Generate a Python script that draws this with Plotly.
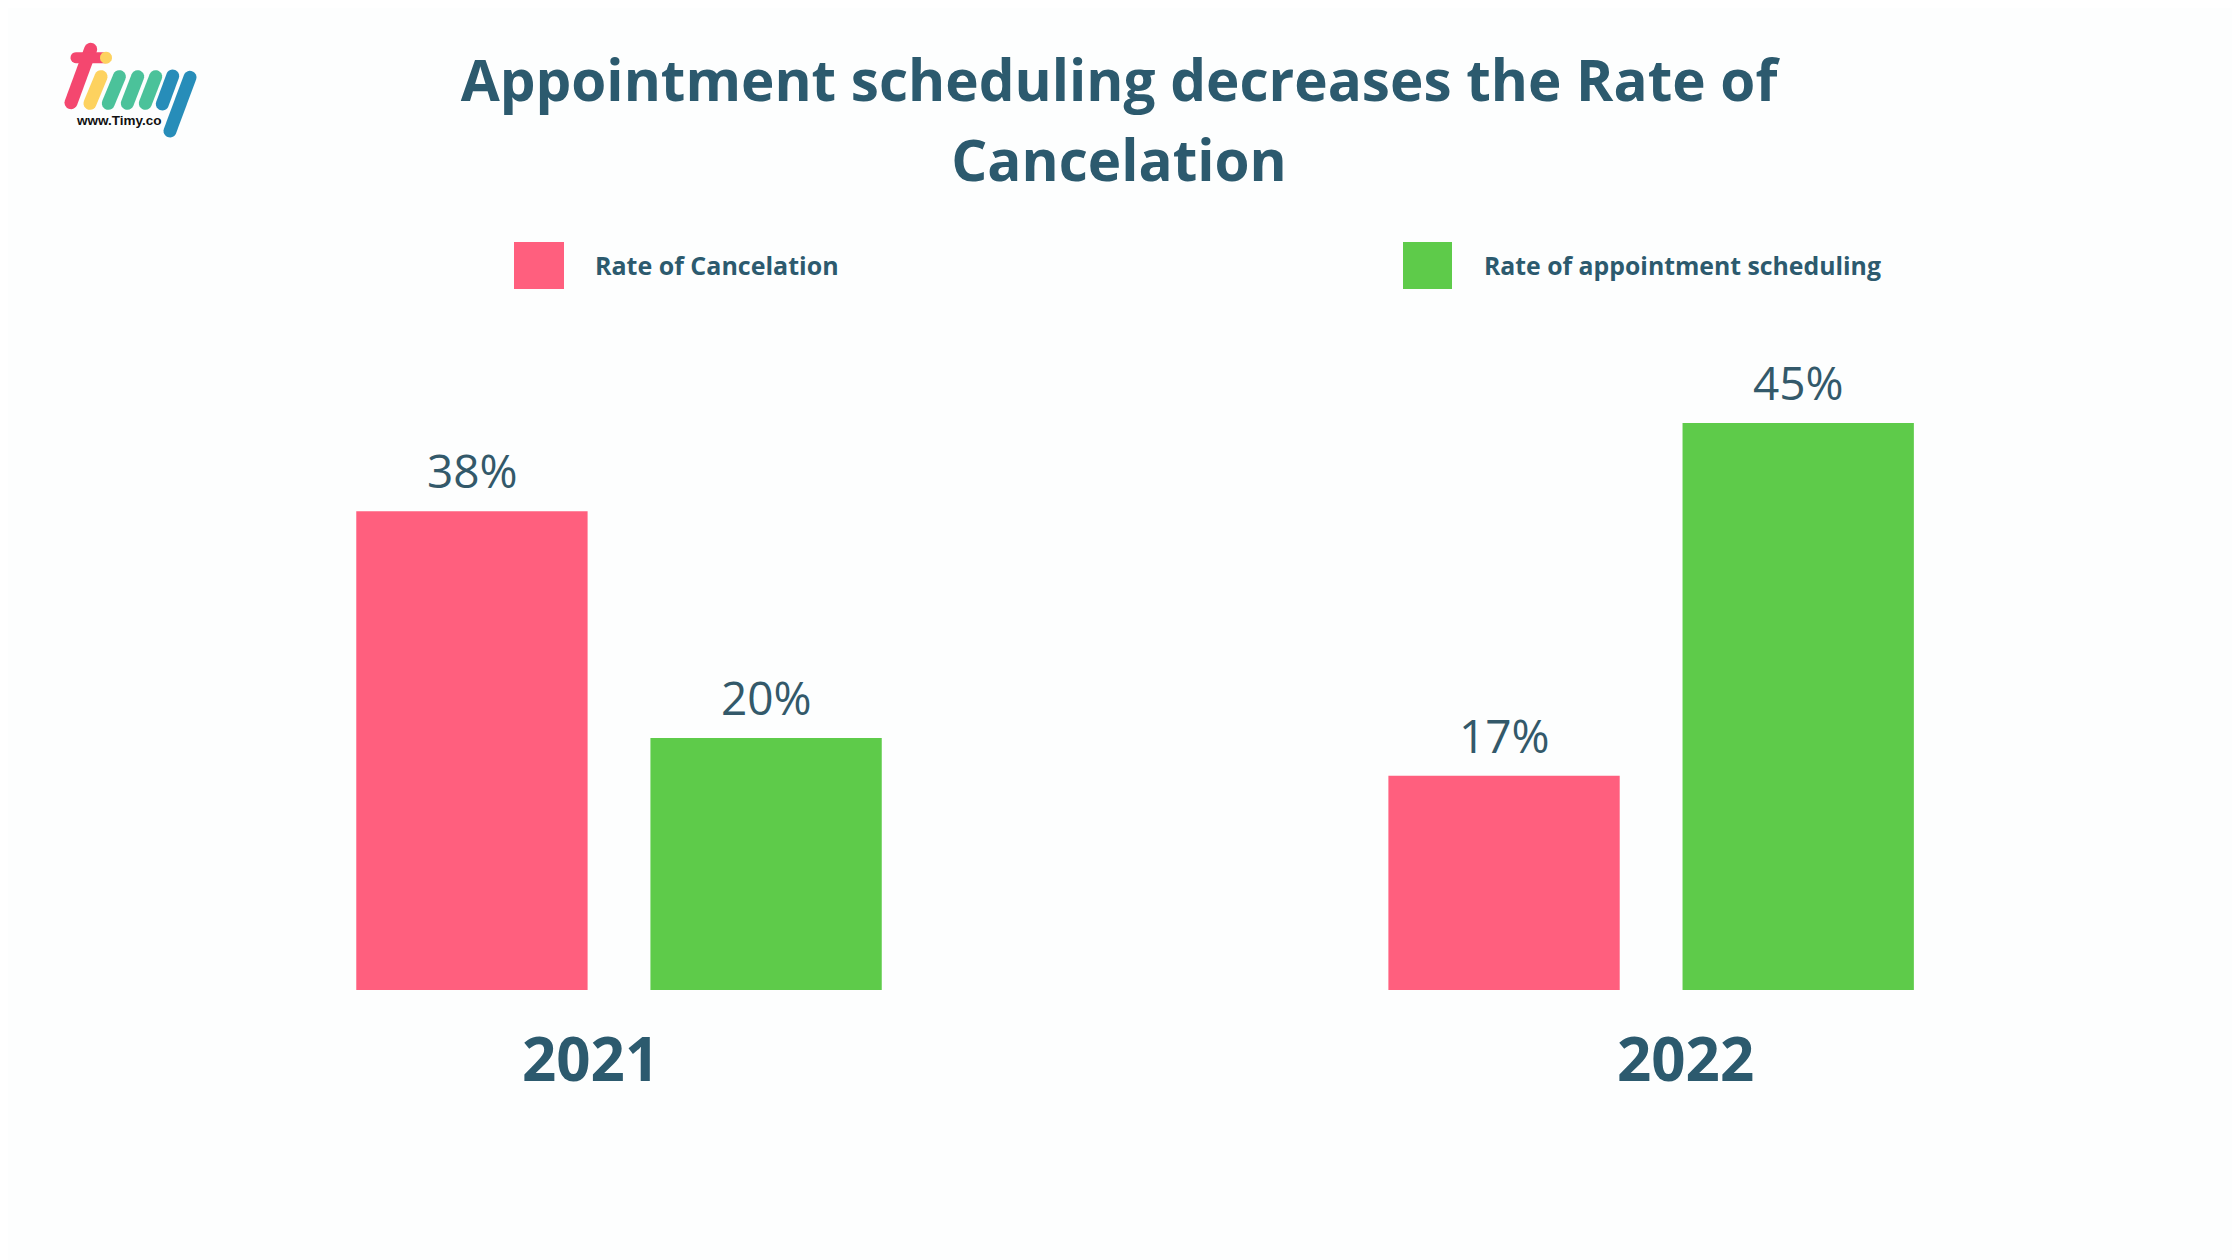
import numpy as np
import plotly.graph_objects as go

W, H = 2240, 1260
PAGE_OFFSET = 8  # browser body margin pushes the figure right and down
FONT = "Open Sans"
TEXT = "#2C5A6E"
RED = "#FF5F7E"
GREEN = "#5ECB4A"

years = ["2021", "2022"]
cancel_rate = [38, 17]
scheduling_rate = [20, 45]
series_names = ["Rate of Cancelation", "Rate of appointment scheduling"]
title_lines = ["Appointment scheduling decreases the Rate of", "Cancelation"]


def px(x):
    return (x - PAGE_OFFSET) / W


def py(y):
    return 1 - (y - PAGE_OFFSET) / H


def capsule(x0, y0, x1, y1, width, color):
    # logo stroke with round ends, given in page pixels
    ang = np.arctan2(y1 - y0, x1 - x0)
    a = np.linspace(np.pi / 2, 3 * np.pi / 2, 12) + ang
    b = np.linspace(-np.pi / 2, np.pi / 2, 12) + ang
    xs = np.r_[x0 + width / 2 * np.cos(a), x1 + width / 2 * np.cos(b)]
    ys = np.r_[y0 + width / 2 * np.sin(a), y1 + width / 2 * np.sin(b)]
    pts = [f"{px(x):.5f},{py(y):.5f}" for x, y in zip(xs, ys)]
    return dict(type="path", xref="paper", yref="paper", layer="above",
                path="M" + "L".join(pts) + "Z", fillcolor=color, line_width=0)


def zp(x, y):
    return 40 + x / 3, 20 + y / 3


def logo_stroke(p0, p1, width, color):
    return capsule(*zp(*p0), *zp(*p1), width, color)


fig = go.Figure()
fig.add_trace(go.Bar(x=years, y=cancel_rate, name=series_names[0], marker_color=RED))
fig.add_trace(go.Bar(x=years, y=scheduling_rate, name=series_names[1], marker_color=GREEN))
fig.update_traces(marker_line_width=0)

shapes = [
    logo_stroke((93, 248), (152, 88), 13, "#F4476F"),
    logo_stroke((108, 113), (195, 113), 11, "#F4476F"),
    logo_stroke((198, 113), (198, 113), 12, "#FDD25F"),
    logo_stroke((150, 250), (183, 170), 13, "#FDD25F"),
    logo_stroke((205, 250), (238, 170), 13, "#4BC29A"),
    logo_stroke((262, 250), (293, 170), 13, "#4BC29A"),
    logo_stroke((316, 250), (347, 170), 13, "#4BC29A"),
    logo_stroke((367, 252), (398, 168), 13, "#278DB9"),
    logo_stroke((390, 333), (450, 172), 13, "#278DB9"),
    dict(type="rect", xref="paper", yref="paper", x0=px(514), x1=px(564),
         y0=py(289), y1=py(242), fillcolor=RED, line_width=0),
    dict(type="rect", xref="paper", yref="paper", x0=px(1403), x1=px(1452),
         y0=py(289), y1=py(242), fillcolor=GREEN, line_width=0),
]


def note(text, x, y, size, xanchor="center", color=TEXT, family=FONT):
    return dict(text=f"<b>{text}</b>", x=px(x), y=py(y), xref="paper", yref="paper",
                xanchor=xanchor, yanchor="middle", showarrow=False,
                font=dict(family=family, size=size, color=color))


def bar_label(idx, value, xshift):
    # value label sits higher above the bar than textposition="outside" allows
    return dict(text=f"{value}%", x=idx, y=value, xref="x", yref="y", xshift=xshift, yshift=41,
                yanchor="middle", showarrow=False,
                font=dict(family=FONT, size=46, color="#33596A"))


annotations = [
    note(years[0], 590, 1058, 60),
    note(years[1], 1685, 1058, 60),
    note(series_names[0], 593, 265, 25, "left"),
    note(series_names[1], 1482, 265, 24.8, "left"),
    note("www.Timy.co", 119, 120, 13.5, color="#111111", family="Liberation Sans"),
]
for i, value in enumerate(cancel_rate):
    annotations.append(bar_label(i, value, -147))
for i, value in enumerate(scheduling_rate):
    annotations.append(bar_label(i, value, 147))

# outer size sets the line spacing, inner spans the glyph size
title_html = "<br>".join(f'<span style="font-size:56.6px"><b>{line}</b></span>' for line in title_lines)

fig.update_layout(
    width=W,
    height=H,
    barmode="group",
    bargap=0.43,
    bargroupgap=0.2136,
    showlegend=False,
    margin=dict(l=0, r=0, t=0, b=0),
    paper_bgcolor="#FDFEFE",
    plot_bgcolor="#FDFEFE",
    title=dict(text=title_html, x=px(1119), xanchor="center", y=1 - 93 / H, yanchor="middle",
               font=dict(family=FONT, size=61.5, color=TEXT)),
    xaxis=dict(type="category", range=[-0.592, 1.5783], visible=False),
    yaxis=dict(range=[-22.06, 77.94], visible=False),
    shapes=shapes,
    annotations=annotations,
)

fig.write_html("out.html")
